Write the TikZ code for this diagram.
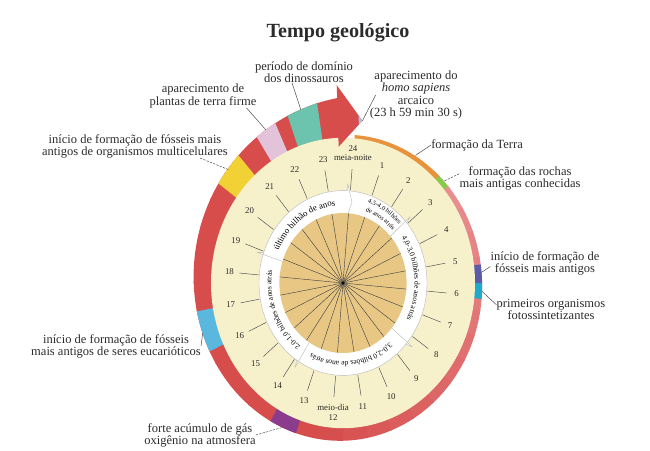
\documentclass[tikz,border=0pt]{standalone}
\usepackage{fontspec}
\setmainfont{Liberation Serif}
\usetikzlibrary{calc,positioning,decorations.text}
\definecolor{GTBeige}{HTML}{F6F0CB}
\definecolor{GTTan}{HTML}{E8C785}
\definecolor{GTPink}{HTML}{E88D90}
\definecolor{GTRed}{HTML}{D64D4C}
\definecolor{GTOrange}{HTML}{E8923C}
\definecolor{GTGreen}{HTML}{8CC84B}
\definecolor{GTIndigo}{HTML}{5A5CA8}
\definecolor{GTCyan}{HTML}{1FA9CC}
\definecolor{GTPurple}{HTML}{8B3C8C}
\definecolor{GTSky}{HTML}{5AB8DE}
\definecolor{GTYellow}{HTML}{F1D133}
\definecolor{GTLilac}{HTML}{E3C3DA}
\definecolor{GTTeal}{HTML}{6DC4AE}
\definecolor{GTMist}{HTML}{B3BFE6}
\definecolor{GTInk}{HTML}{2B2B2B}

% piece of the outer band between two clock angles (0 = top, clockwise)
\newcommand{\bandpiece}[3]{%
  \fill[#3] plot[domain=#1:#2,samples=20]
      ({(3.3+bandt(\x))*sin(\x)},{1.1*(3.3+bandt(\x))*cos(\x)})
    -- ({3.2*sin(#2)},{3.52*cos(#2)})
    arc[start angle=90-(#2),end angle=90-(#1),x radius=3.2,y radius=3.52] -- cycle;}
% piece of the inner white ring, ending in a head
\newcommand{\ringpiece}[2]{%
  \filldraw[ringseg] ({1.45*sin(#1)},{1.595*cos(#1)})
    -- ({2.1*sin(#1)},{2.31*cos(#1)})
    arc[start angle=90-(#1),end angle=94-(#2),x radius=2.1,y radius=2.31]
    -- ({2.26*sin((#2)-4)},{2.486*cos((#2)-4)})
    -- ({1.85*sin(#2)},{2.035*cos(#2)})
    -- ({1.45*sin((#2)-4)},{1.595*cos((#2)-4)})
    arc[start angle=94-(#2),end angle=90-(#1),x radius=1.45,y radius=1.595] -- cycle;}

\begin{document}
\begin{tikzpicture}[
    declare function={bandt(\a)=0.075+0.42*((\a-5)/352)+0.4*((\a-5)/352)^8;},
    heading/.style={font=\fontsize{14.3}{16}\selectfont\bfseries,text=GTInk},
    note/.style={font=\fontsize{8.9}{8.6}\selectfont,align=center,text=GTInk,inner sep=0pt},
    hour/.style={font=\fontsize{6.3}{6.5}\selectfont,text=GTInk,inner sep=0pt},
    hourtick/.style={draw=GTInk!80,line width=0.35pt},
    leader/.style={draw=GTInk!85,line width=0.35pt},
    dashleader/.style={leader,dash pattern=on 1.6pt off 0.9pt},
    ringseg/.style={fill=white,draw=gray!55,line width=0.3pt,line join=round},
    spoke/.style={draw=black!75,line width=0.3pt}
  ]
  \path[use as bounding box] (-8.575,-4.175) rectangle (7.675,7.075);
  \node[heading] (title) at (-0.125,6.25) {Tempo geológico};

  % outer band
  \bandpiece{5}{45}{GTOrange}
  \bandpiece{44.5}{51}{GTGreen}
  \foreach \a [evaluate=\a as \b using \a+10.5,
               evaluate=\a as \m using {min(100,(\a-50)*0.75)}] in {50,60,...,340}
    {\bandpiece{\a}{\b}{GTRed!\m!GTPink}}
  \bandpiece{350}{358.6}{GTRed}
  \bandpiece{83}{90}{GTIndigo}
  \bandpiece{90}{96}{GTCyan}
  \bandpiece{199}{210}{GTPurple}
  \bandpiece{245}{260}{GTSky}
  \bandpiece{306}{318}{GTYellow}
  \bandpiece{327}{335}{GTLilac}
  \bandpiece{340}{351}{GTTeal}

  % clock face
  \fill[GTBeige] (0,0) ellipse[x radius=3.3,y radius=3.63];
  \coordinate (headin) at ({3.1*sin(358)},{3.41*cos(358)});
  \coordinate (headout) at ({4.5*sin(358)},{4.95*cos(358)});
  \coordinate (headtip) at ({3.72*sin(7.5)},{4.092*cos(7.5)});
  \fill[GTRed] (headin) -- (headout) -- (headtip) -- cycle;
  \fill[GTMist] ($(headin)!0.85!(headtip)$) -- ($(headout)!0.85!(headtip)$)
    -- (headtip) -- cycle;

  % hours
  \foreach \h in {1,...,24}
    \draw[hourtick] ({85-15*\h}:2.12cm and 2.33cm) -- ({85-15*\h}:2.6cm and 2.86cm);
  \foreach \h in {1,...,11,13,14,...,23}
    \node[hour] (h\h) at ({85-15*\h}:2.85cm and 3.135cm) {\h};
  \node[hour] (meianoite) at (85:2.85cm and 3.135cm) {meia-noite};
  \node[hour,above=2pt of meianoite] (h24) {24};
  \node[hour] (meiodia) at (-95:2.85cm and 3.135cm) {meio-dia};
  \node[hour,below=2pt of meiodia] (h12) {12};

  % inner ring of eras
  \ringpiece{3}{52}
  \ringpiece{48}{134}
  \ringpiece{130}{216}
  \ringpiece{212}{292}
  \ringpiece{288}{367}
  \fill[GTTan] (0,0) ellipse[x radius=1.59,y radius=1.75];
  \foreach \s in {0,...,23}
    \draw[spoke] (0,0) -- ({85-15*\s}:1.59cm and 1.75cm);
  \fill[black] (0,0) circle[radius=0.04];

  \path[decorate,decoration={text along path,text align=center,
      text={|\fontsize{4.6}{5}\selectfont|4,5-4,0 bilhões}}]
    (88:1.93cm and 2.123cm) arc[start angle=88,end angle=28,x radius=1.93cm,y radius=2.123cm];
  \path[decorate,decoration={text along path,text align=center,
      text={|\fontsize{4.6}{5}\selectfont|de anos atrás}}]
    (88:1.72cm and 1.892cm) arc[start angle=88,end angle=28,x radius=1.72cm,y radius=1.892cm];
  \path[decorate,decoration={text along path,text align=center,
      text={|\fontsize{5.3}{6}\selectfont|4,0-3,0 bilhões de anos atrás}}]
    (54:1.79cm and 1.969cm) arc[start angle=54,end angle=-46,x radius=1.79cm,y radius=1.969cm];
  \path[decorate,decoration={text along path,text align=center,
      text={|\fontsize{5.3}{6}\selectfont|3,0-2,0 bilhões de anos atrás}}]
    (-33:1.79cm and 1.969cm) arc[start angle=-33,end angle=-133,x radius=1.79cm,y radius=1.969cm];
  \path[decorate,decoration={text along path,text align=center,
      text={|\fontsize{5.3}{6}\selectfont|2,0-1,0 bilhões de anos atrás}}]
    (-107:1.79cm and 1.969cm) arc[start angle=-107,end angle=-207,x radius=1.79cm,y radius=1.969cm];
  \path[decorate,decoration={text along path,text align=center,
      text={|\fontsize{6.3}{7}\selectfont|último bilhão de anos}}]
    (175:1.77cm and 1.947cm) arc[start angle=175,end angle=75,x radius=1.77cm,y radius=1.947cm];

  % events
  \node[note,anchor=west] (terra) at (2.2,3.45) {formação da Terra};
  \node[note] (rochas) at (4.425,2.625) {formação das rochas\\mais antigas conhecidas};
  \node[note] (fosseis) at (5.05,0.5) {início de formação de\\fósseis mais antigos};
  \node[note] (primeiros) at (5.2,-0.65) {primeiros organismos\\fotossintetizantes};
  \node[note] (eucar) at (-5.675,-1.575) {início de formação de fósseis\\mais antigos de seres eucarióticos};
  \node[note] (oxig) at (-3.575,-3.8) {forte acúmulo de gás\\oxigênio na atmosfera};
  \node[note] (multi) at (-5.2,3.425) {início de formação de fósseis mais\\antigos de organismos multicelulares};
  \node[note] (plantas) at (-3.5,4.675) {aparecimento de\\plantas de terra firme};
  \node[note] (dino) at (-0.975,5.275) {período de domínio\\dos dinossauros};
  \node[note] (homo) at (1.825,4.7) {aparecimento do\\\textit{homo sapiens}\\arcaico\\(23 h 59 min 30 s)};

  \coordinate (pTerra) at (58:3.42cm and 3.762cm);
  \coordinate (pRochas) at (42.5:3.43cm and 3.773cm);
  \coordinate (pFosseis) at (4:3.47cm and 3.817cm);
  \coordinate (pPrimeiros) at (-3:3.47cm and 3.817cm);
  \coordinate (pEucar) at (-162:3.69cm and 4.06cm);
  \coordinate (pOxig) at (-114.5:3.6cm and 3.96cm);
  \coordinate (pMulti) at (138:3.85cm and 4.235cm);
  \coordinate (pPlantas) at (119:3.98cm and 4.378cm);
  \coordinate (pDino) at (105:4.08cm and 4.488cm);

  \draw[leader] (terra.west) -- (pTerra);
  \draw[dashleader] ([yshift=3pt]rochas.west) -- (pRochas);
  \draw[leader] ([yshift=-2.5pt]fosseis.west) -- (pFosseis);
  \draw[leader] ([yshift=3pt]primeiros.west) -- (pPrimeiros);
  \draw[leader] (eucar.east) -- (pEucar);
  \draw[dashleader] (oxig.east) -- (pOxig);
  \draw[dashleader] ([xshift=-0.7cm]multi.south east) -- (pMulti);
  \draw[leader] ([xshift=-0.25cm]plantas.south east) -- (pPlantas);
  \draw[leader] ([xshift=-0.3cm]dino.south) -- (pDino);
  \draw[leader] ([xshift=0.15cm]homo.west) -- (headtip);
\end{tikzpicture}
\end{document}
